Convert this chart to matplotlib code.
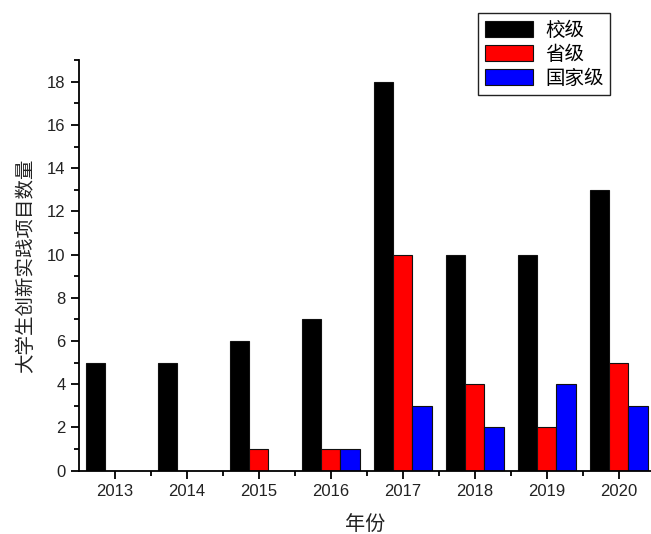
import numpy as np
import matplotlib.pyplot as plt
from matplotlib.ticker import MultipleLocator, FixedLocator

plt.rcParams['font.family'] = ['Liberation Sans', 'Noto Sans CJK SC', 'DejaVu Sans']

years = ["2013", "2014", "2015", "2016", "2017", "2018", "2019", "2020"]
school = [5, 5, 6, 7, 18, 10, 10, 13]
province = [0, 0, 1, 1, 10, 4, 2, 5]
national = [0, 0, 0, 1, 3, 2, 4, 3]

series = [school, province, national]
names = ["校级", "省级", "国家级"]
colors = ["#000000", "#ff0000", "#0000ff"]

fig = plt.figure(figsize=(6.51, 5.34), dpi=100)
ax = fig.add_axes([0.121, 0.1185, 0.879, 0.769])

x = np.arange(len(years))
w = 0.268
for i, (vals, name, c) in enumerate(zip(series, names, colors)):
    ax.bar(x + (i - 1) * w, vals, w, color=c, edgecolor="#111111",
           linewidth=0.8, label=name)

ax.set_xlim(-0.5, 7.45)
ax.set_ylim(0, 19)

ax.spines["top"].set_visible(False)
ax.spines["right"].set_visible(False)
ax.spines["left"].set_linewidth(1.3)
ax.spines["bottom"].set_linewidth(1.3)

ax.set_xticks(x)
ax.set_xticklabels(years)
ax.xaxis.set_minor_locator(FixedLocator(x[:-1] + 0.5))
ax.yaxis.set_major_locator(MultipleLocator(2))
ax.yaxis.set_minor_locator(MultipleLocator(1))
ax.tick_params(which="major", direction="out", length=6, width=1.3,
               labelsize=12, colors="#000000", labelcolor="#222222")
ax.tick_params(which="minor", direction="out", length=3.5, width=1.3)

ax.set_xlabel("年份", fontsize=14.5, family=["Noto Sans CJK SC"], labelpad=11,
              color="#222222")
ax.set_ylabel("大学生创新实践项目数量", fontsize=14, family=["Noto Sans CJK SC"],
              labelpad=8, color="#222222")

leg = fig.legend(loc="upper left", bbox_to_anchor=(478 / 651, 1 - 13 / 534),
                 borderaxespad=0, fancybox=False, framealpha=1,
                 edgecolor="#222222", prop={"family": "Noto Sans CJK SC", "size": 14},
                 handlelength=2.5, handleheight=0.93, labelspacing=0.15,
                 borderpad=0.35, handletextpad=0.6)
leg.get_frame().set_linewidth(1.0)

fig.savefig("out.png", dpi=100)
